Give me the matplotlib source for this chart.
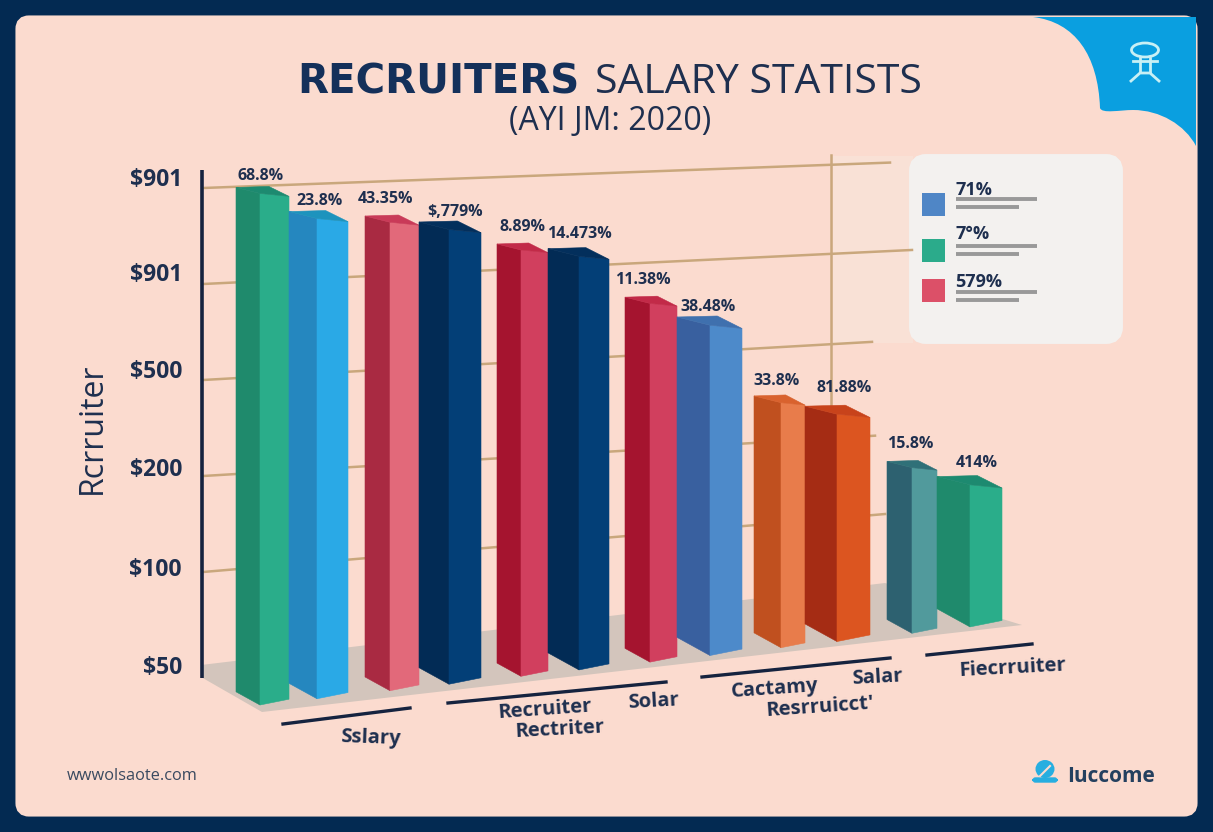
import matplotlib
matplotlib.use('Agg')
import matplotlib.pyplot as plt
from matplotlib.patches import Ellipse, FancyBboxPatch, PathPatch, Polygon, Rectangle
from matplotlib.path import Path
from matplotlib.transforms import Affine2D

plt.rcParams['font.family'] = ['Open Sans', 'DejaVu Sans']

# ### data (bar height in y tick steps)
bar_values = [5.22, 4.90, 4.78, 4.64, 4.35, 4.22, 3.66, 3.37, 2.50, 2.32, 1.69, 1.45]
bar_labels = ['68.8%', '23.8%', '43.35%', '$,779%', '8.89%', '14.473%',
              '11.38%', '38.48%', '33.8%', '81.88%', '15.8%', '414%']
y_tick_labels = ['$50', '$100', '$200', '$500', '$901', '$901']
legend_labels = ['71%', '7°%', '579%']

# ### layout
bar_left = [236, 289, 365, 419, 497, 548, 625, 677, 754, 805, 887, 937]
bar_mid = [260, 317, 390, 449, 521, 579, 650, 710, 781, 837, 912, 970]
bar_right = [289, 348, 419, 481, 548, 609, 677, 742, 805, 870, 937, 1002]
label_dx = [1, 3, -4, 6, 2, 0, -7, -2, -4, 7, -2, 7]
label_dy = [17, 18, 23, 17, 23, 22, 23, 18, 22, 26, 24, 22]

# left face, right face, top face
green = ('#1f8a6c', '#2aad8a', '#1d8a70')
sky = ('#2587bf', '#2aa9e6', '#1d93bd')
pink = ('#a92a42', '#e2697a', '#c93a58')
navy = ('#022b55', '#033f77', '#032f5c')
crimson = ('#a5142f', '#d13f5e', '#c22a48')
steel = ('#39609f', '#4d8aca', '#3f70ae')
orange = ('#c0501f', '#e87c4b', '#d9622e')
rust = ('#a52c14', '#dc5520', '#c8431b')
teal = ('#2d6170', '#519a9c', '#2f7078')
bar_colors = [green, sky, pink, navy, crimson, navy, crimson, steel, orange, rust, teal, green]

ink = '#1e2f4f'
line_ink = '#15233f'
tan = '#c9a77c'
peach = '#fbdbcf'

fig = plt.figure(figsize=(12.13, 8.32), dpi=100, facecolor='#032a52')
ax = fig.add_axes([0, 0, 1, 1])
ax.set_xlim(0, 1213)
ax.set_ylim(832, 0)
ax.axis('off')

# x stays as it is, y = sloped floor minus the value
bar_trans = Affine2D.from_values(1, -0.11, 0, -98, 0, 733.6) + ax.transData

# ##### panel and corner tab #####
ax.add_patch(FancyBboxPatch((21, 21), 1171, 790, boxstyle='round,pad=0,rounding_size=8',
                            mutation_aspect=1, fc=peach, ec=peach, lw=8, zorder=1))
tab = [(1033, 17), (1075, 22), (1098, 55), (1100, 108), (1102, 114), (1120, 110), (1133, 110),
       (1160, 110), (1185, 125), (1196, 146), (1196, 17), (1033, 17)]
tab_codes = [Path.MOVETO, Path.CURVE4, Path.CURVE4, Path.CURVE4, Path.CURVE4, Path.CURVE4, Path.CURVE4,
             Path.CURVE4, Path.CURVE4, Path.CURVE4, Path.LINETO, Path.CLOSEPOLY]
ax.add_patch(PathPatch(Path(tab, tab_codes), fc='#0a9fe0', ec='none', zorder=2))

icon = '#c8f0f5'
ax.add_patch(Ellipse((1145, 50), 27, 14, fc='none', ec=icon, lw=2, zorder=3))
ax.plot([1140, 1140], [58, 72], color=icon, lw=2, zorder=3)
ax.plot([1150, 1150], [58, 72], color=icon, lw=2, zorder=3)
ax.plot([1133, 1157], [61, 61], color=icon, lw=2, zorder=3)
ax.plot([1131, 1140, 1150, 1159], [81, 73, 73, 81], color=icon, lw=2, zorder=3)

# ##### title #####
ax.text(297, 93, 'RECRUITERS', fontsize=29, fontweight='bold', family='DejaVu Sans', color='#14305a',
        ha='left', va='baseline', zorder=5)
ax.text(595, 93, 'SALARY STATISTS', fontsize=29.5, color=ink, ha='left', va='baseline', zorder=5)
ax.text(610, 122, '(AYI JM: 2020)', fontsize=23, color=ink, ha='center', va='center', zorder=5)

# ##### legend panel #####
ax.add_patch(Rectangle((833, 156), 80, 187, fc='#f9e1d6', ec='none', zorder=2))
ax.add_patch(FancyBboxPatch((916, 161), 200, 176, boxstyle='round,pad=0,rounding_size=10',
                            fc='#f3f1ef', ec='#f3f1ef', lw=10, zorder=2))

# ##### grid lines, they close up to the right #####
grid_levels = [5, 4, 3, 2, 1]
grid_slopes = [0.037, 0.048, 0.057, 0.06, 0.085]
grid_ends = [890, 912, 872, 875, 885]
for level, slope, x_end in zip(grid_levels, grid_slopes, grid_ends):
    y0 = 668 - 96 * level
    ax.plot([203, x_end], [y0, y0 - slope * (x_end - 203)], color=tan, lw=1.8, zorder=3)
ax.plot([831, 831], [155, 405], color=tan, lw=1.8, zorder=3)

# ##### floor shadow #####
ax.add_patch(Polygon([(201, 677), (262, 712), (1022, 625), (885, 583), (201, 665)],
                     closed=True, fc='#d3c5bc', ec='none', zorder=3))


def draw_bar(x0, x1, x2, value, colors):
    dl, dr = x1 - x0, x2 - x1
    bottom_l = 0.66 * dl / 98
    bottom_r = 0.09 * dr / 98
    top_l = value + 0.36 * dl / 98
    top_r = value - 0.21 * dr / 98
    xb = x0 + 0.62 * (x2 - x0)
    top_b = value + (0.25 * dl + 1 - 0.11 * (xb - x1)) / 98
    ax.add_patch(Polygon([(x0, bottom_l), (x1, 0), (x1, value), (x0, top_l)], closed=True,
                         fc=colors[0], ec=colors[0], lw=0.4, transform=bar_trans, zorder=4))
    ax.add_patch(Polygon([(x1, 0), (x2, bottom_r), (x2, top_r), (x1, value)], closed=True,
                         fc=colors[1], ec=colors[1], lw=0.4, transform=bar_trans, zorder=4))
    ax.add_patch(Polygon([(x0, top_l), (x1, value), (x2, top_r), (xb, top_b)], closed=True,
                         fc=colors[2], ec=colors[2], lw=0.4, transform=bar_trans, zorder=4))


for i in range(len(bar_values)):
    draw_bar(bar_left[i], bar_mid[i], bar_right[i], bar_values[i], bar_colors[i])
    ax.annotate(bar_labels[i], (bar_mid[i], bar_values[i]), xycoords=bar_trans,
                xytext=(label_dx[i], label_dy[i]), textcoords='offset pixels',
                fontsize=11.5, fontweight='bold', color=ink, ha='center', va='center', zorder=6)

# ##### axis, ticks and category labels #####
ax.plot([202, 202], [170, 678], color=line_ink, lw=2.6, solid_capstyle='butt', zorder=5)
tick_y = [668, 570, 470, 372, 275, 180]
for label, y in zip(y_tick_labels, tick_y):
    ax.text(182, y, label, fontsize=16.5, fontweight='bold', color=ink, ha='right', va='center', zorder=5)
ax.text(92, 428, 'Rcrruiter', fontsize=23, color=ink, rotation=90, ha='center', va='center', zorder=5)

category_lines = [((283, 410), (724, 708)), ((448, 666), (703, 682)),
                  ((702, 890), (677, 658)), ((927, 1032), (655, 644))]
for xs, ys in category_lines:
    ax.plot(xs, ys, color=line_ink, lw=2.4, zorder=5)

category_labels = ['Sslary', 'Recruiter', 'Rectriter', 'Solar', 'Cactamy', 'Salar', "Resrruicct'", 'Fiecrruiter']
category_x = [371, 545, 560, 653, 775, 877, 820, 1012]
category_y = [738, 710, 730, 702, 689, 678, 707, 668]
category_rot = [-2, 4, 3, 3, 4, 3, 4, 3]
for label, x, y, rot in zip(category_labels, category_x, category_y, category_rot):
    ax.text(x, y, label, fontsize=14.5, fontweight='bold', color=ink, rotation=rot,
            ha='center', va='center', zorder=5)

# ##### legend content #####
legend_colors = ['#4f86c6', '#2bab8b', '#dc5068']
legend_box_y = [193, 239, 279]
legend_text_y = [190, 234, 282]
legend_line_y = [199, 246, 292]
for c, label, by, ty, ly in zip(legend_colors, legend_labels, legend_box_y, legend_text_y, legend_line_y):
    ax.add_patch(Rectangle((922, by), 23, 23, fc=c, ec='none', zorder=5))
    ax.text(955, ty, label, fontsize=13, fontweight='bold', color=ink, ha='left', va='center', zorder=5)
    ax.plot([956, 1037], [ly, ly], color='#999999', lw=2.8, solid_capstyle='butt', zorder=5)
    ax.plot([956, 1019], [ly + 8, ly + 8], color='#999999', lw=2.8, solid_capstyle='butt', zorder=5)

# ##### footer #####
ax.text(67, 776, 'wwwolsaote.com', fontsize=11.8, color='#3a4a60', ha='left', va='center', zorder=5)
ax.add_patch(Ellipse((1045, 769), 19, 18, fc='#27aee0', ec='none', zorder=5))
ax.add_patch(FancyBboxPatch((1033, 778), 24, 4, boxstyle='round,pad=0,rounding_size=2.5',
                            fc='#27aee0', ec='#27aee0', lw=1, zorder=5))
ax.plot([1040, 1050], [776, 766], color=peach, lw=1.5, zorder=6)
ax.text(1067, 776, 'Iuccome', fontsize=15, fontweight='bold', color='#24405f', ha='left', va='center', zorder=5)

plt.savefig('out.png', dpi=100, facecolor=fig.get_facecolor())
